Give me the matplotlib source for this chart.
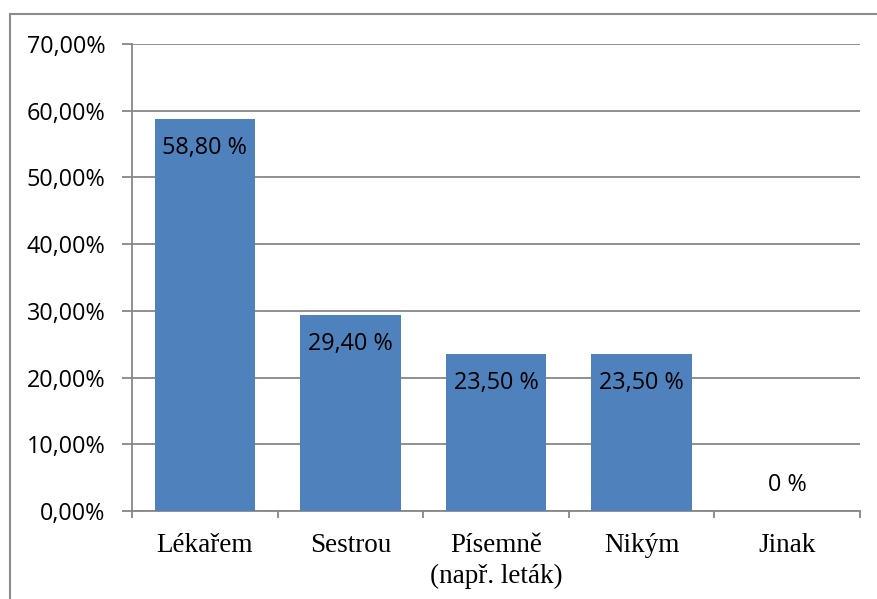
import matplotlib
matplotlib.use("Agg")
import matplotlib.pyplot as plt
from matplotlib.lines import Line2D
import numpy as np

categories = ["Lékařem", "Sestrou", "Písemně\n(např. leták)", "Nikým", "Jinak"]
values = [58.8, 29.4, 23.5, 23.5, 0.0]
yticks = [0, 10, 20, 30, 40, 50, 60, 70]

bar_color = "#4F81BD"
grid_color = "#878787"
sans = ["Open Sans", "DejaVu Sans"]
serif = ["Liberation Serif", "DejaVu Serif"]

fig = plt.figure(figsize=(8.78, 5.99), dpi=100)
ax = fig.add_axes([132 / 878, 88 / 599, 728 / 878, 467 / 599])

x = np.arange(len(categories))
bars = ax.bar(x, values, width=0.69, color=bar_color, zorder=3)

ax.set_xlim(-0.5, len(categories) - 0.5)
ax.set_ylim(0, 70)
ax.set_yticks(yticks)
ax.set_yticklabels([f"{t:.2f}".replace(".", ",") + "%" for t in yticks],
                   family=sans, fontsize=16.8)
ax.yaxis.grid(True, color=grid_color, lw=1.3, zorder=0)
ax.tick_params(axis="y", length=7, width=1.3, color=grid_color, pad=12)

# category names at bar centres, tick marks between the categories
ax.set_xticks(x)
ax.set_xticklabels(categories, family=serif, fontsize=19.5, linespacing=1.3)
ax.set_xticks(np.arange(len(categories) + 1) - 0.5, minor=True)
ax.tick_params(axis="x", which="major", length=0, pad=16)
ax.tick_params(axis="x", which="minor", length=5, width=1.3, color=grid_color)

for side in ["top", "right"]:
    ax.spines[side].set_visible(False)
for side in ["left", "bottom"]:
    ax.spines[side].set_color(grid_color)
    ax.spines[side].set_linewidth(1.3)

# value labels inside the bar ends
for rect, v in zip(bars, values):
    txt = "0 %" if v == 0 else f"{v:.2f}".replace(".", ",") + " %"
    off = 26 if v == 0 else -29
    ax.annotate(txt, (rect.get_x() + rect.get_width() / 2, v),
                xytext=(0, off), textcoords="offset pixels",
                ha="center", va="center", family=sans, fontsize=16.8,
                color="black", zorder=4)

# outer chart frame
fx = 10 / 878
fy = 1 - 14 / 599
fig.add_artist(Line2D([fx, fx], [0, fy], transform=fig.transFigure,
                      color="#8c8c8c", lw=1.5))
fig.add_artist(Line2D([fx, 1], [fy, fy], transform=fig.transFigure,
                      color="#8c8c8c", lw=1.5))

fig.savefig("out.png", dpi=100)
